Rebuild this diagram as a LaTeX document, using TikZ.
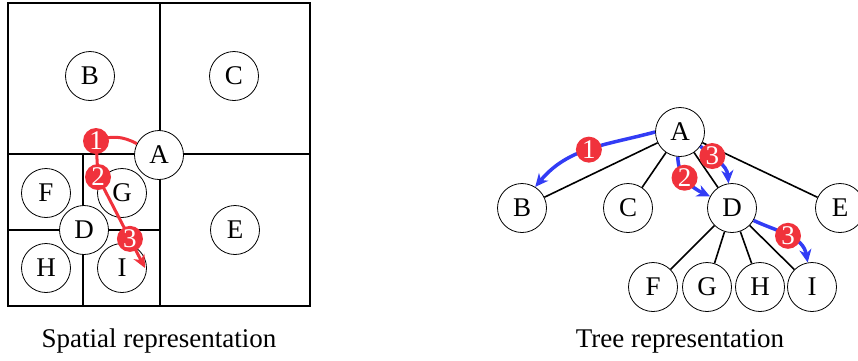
\documentclass[tikz,border=0pt]{standalone}
\usepackage{fontspec}
\setmainfont{Liberation Serif}
\usetikzlibrary{calc,arrows.meta}
\definecolor{markred}{RGB}{240,50,60}
\definecolor{markblue}{RGB}{50,60,245}

\begin{document}
\begin{tikzpicture}[
  x=1pt, y=-1pt,
  every node/.style={font=\fontsize{27}{31}\selectfont},
  pt/.style={circle, draw, fill=white, line width=0.8pt, minimum size=49pt, inner sep=0pt},
  badge/.style={circle, fill=markred, text=white, minimum size=26pt, inner sep=0pt},
  cell/.style={line width=1.6pt},
  edge/.style={line width=1.6pt},
  redpath/.style={draw=markred, line width=3pt, -{Stealth[length=13pt, width=12pt, inset=4pt]}},
  bluepath/.style={draw=markblue, line width=3.5pt, -{Stealth[length=13pt, width=12pt, inset=4pt]}}
]
\useasboundingbox (0,0) rectangle (858,360);

% spatial representation
\draw[cell] (8,3) rectangle (310,306);
\draw[cell] (160,3) -- (160,306);
\draw[cell] (8,154) -- (310,154);
\draw[cell] (83,154) -- (83,306);
\draw[cell] (8,230) -- (160,230);

\node[pt] (sB) at (90,76) {B};
\node[pt] (sC) at (234,76) {C};
\node[pt] (sA) at (159,155) {A};
\node[pt] (sF) at (46,193) {F};
\node[pt] (sG) at (122,193) {G};
\node[pt] (sD) at (84,230) {D};
\node[pt] (sE) at (235,230) {E};
\node[pt] (sH) at (46,268) {H};
\node[pt] (sI) at (122,268) {I};

\coordinate (r1) at (96,141);
\coordinate (r2) at (98,177);
\coordinate (rend) at (145,268);
\draw[redpath] (sA.153) to[bend right=25] (r1) -- (r2) -- (rend);
\node[badge] (s1) at (r1) {1};
\node[badge] (s2) at (r2) {2};
\node[badge] (s3) at ($(r2)!0.68!(rend)$) {3};

\node[anchor=base] (cap1) at (159,347) {Spatial representation};

% tree representation
\node[pt] (tA) at (680,132) {A};
\node[pt] (tB) at (522,208) {B};
\node[pt] (tC) at (628,208) {C};
\node[pt] (tD) at (732,208) {D};
\node[pt] (tE) at (840,208) {E};
\node[pt] (tF) at (653,287) {F};
\node[pt] (tG) at (707,287) {G};
\node[pt] (tH) at (760,287) {H};
\node[pt] (tI) at (812,287) {I};

\foreach \c in {tB,tC,tD,tE} \draw[edge] (tA) -- (\c);
\foreach \c in {tF,tG,tH,tI} \draw[edge] (tD) -- (\c);

\draw[bluepath] (tA.180) to[out=195, in=50] node[badge, pos=0.5] {1} (tB.58);
\draw[bluepath] (tA.265) to[out=-90, in=155] node[badge, pos=0.42] {2} (tD.152);
\draw[bluepath] (tA.-35) to[out=-40, in=95] node[badge, pos=0.3] {3} (tD.98);
\draw[bluepath] (tD.-30) to[out=-25, in=100] node[badge, pos=0.5] {3} (tI.100);

\node[anchor=base] (cap2) at (680,347) {Tree representation};
\end{tikzpicture}
\end{document}
